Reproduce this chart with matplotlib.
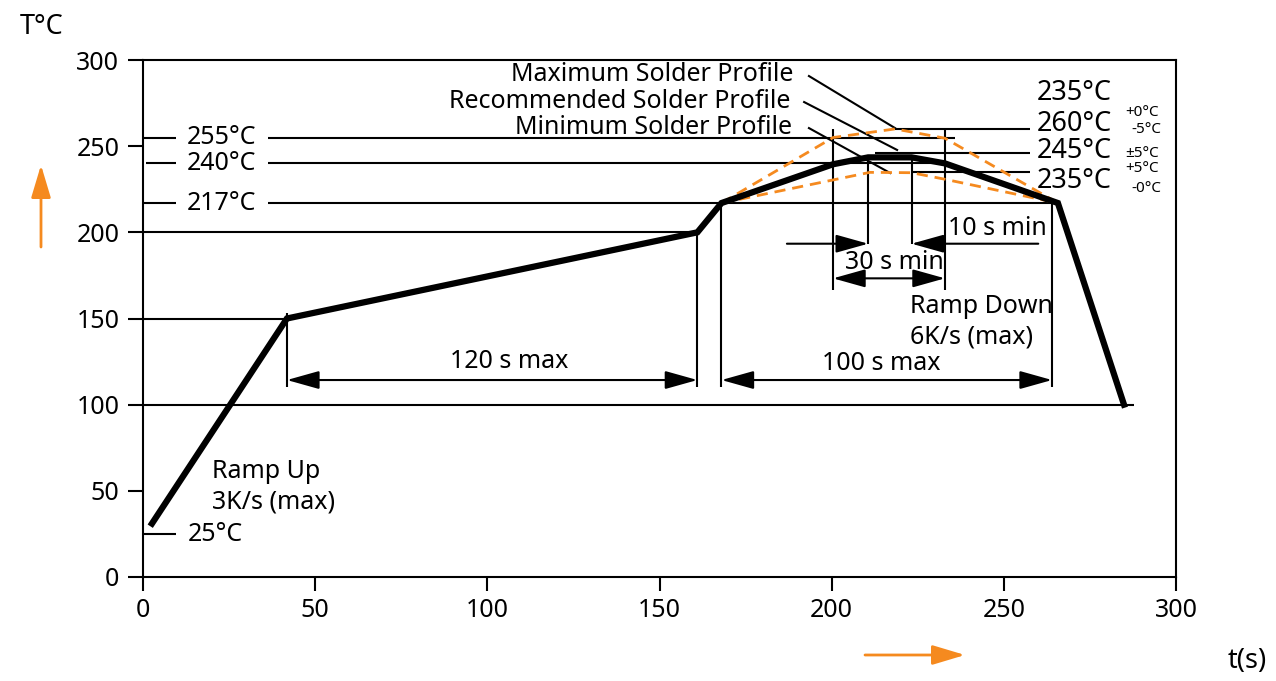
import matplotlib
matplotlib.use('Agg')
from matplotlib import pyplot as plt

plt.rcParams['font.family'] = ['Noto Sans', 'DejaVu Sans']

# reflow profile (thick black)
prof_t = [2.6, 41.8, 161, 168, 200.4, 210.6, 223.2, 232.9, 265.7, 284.9]
prof_T = [31, 150, 200, 217, 239.5, 243.5, 243.5, 240, 217, 100]
# maximum / minimum solder profiles (orange dashed)
max_t = [168, 200.4, 218.4, 232.9, 265.7]
max_T = [217, 255, 260, 254.6, 217]
min_t = [168, 200.4, 211.1, 223.2, 232.9, 265.7]
min_T = [217, 230.4, 234.8, 234.6, 230.8, 217]

xticks = [0, 50, 100, 150, 200, 250, 300]
yticks = [0, 50, 100, 150, 200, 250, 300]

# horizontal reference lines: (T, t_from, t_to)
hlines = [(255, 0, 9.7), (255, 36.2, 235.8),
          (240, 1, 9.7), (240, 36.2, 233),
          (217, 0, 9.7), (217, 36.2, 266),
          (200, 0, 161), (150, 0, 41.8), (100, 0, 287.8), (25, 0, 9.7),
          (260, 218.4, 257.6), (246, 212.6, 257.6), (235, 223.6, 257.6)]
# vertical reference lines: (t, T_from, T_to)
vlines = [(41.8, 110, 153), (161, 110, 200), (168, 110, 217), (264, 110, 217),
          (200.4, 166.5, 260), (210.6, 193, 244), (223.2, 193, 244),
          (232.9, 166.5, 260)]
# leader lines for the profile names
leaders = [((193.4, 290.7), (218.4, 260.5)),
           ((192, 275.6), (219, 247.8)),
           ((193.4, 260.5), (217, 234.4))]

orange = '#F58A1F'
fs = 18

fig = plt.figure(figsize=(12.76, 6.81), dpi=100)
ax = fig.add_axes([143 / 1276, 1 - 577 / 681, (1176 - 143) / 1276, (577 - 60) / 681])
ax.set_xlim(0, 300)
ax.set_ylim(0, 300)

for T, a, b in hlines:
    ax.plot([a, b], [T, T], color='k', lw=1.5, solid_capstyle='butt')
for t, a, b in vlines:
    ax.plot([t, t], [a, b], color='k', lw=1.5, solid_capstyle='butt')
for p, q in leaders:
    ax.plot([p[0], q[0]], [p[1], q[1]], color='k', lw=1.5, clip_on=False)

ax.plot(max_t, max_T, color=orange, lw=2, dashes=(4, 2.5))
ax.plot(min_t, min_T, color=orange, lw=2, dashes=(4, 2.5))
ax.plot(prof_t, prof_T, color='k', lw=4.5, solid_joinstyle='miter')


def dim_arrow(a, b, T, style='<|-|>'):
    ax.annotate('', xy=(b, T), xytext=(a, T),
                arrowprops=dict(arrowstyle=style + ',head_length=1.0,head_width=0.28',
                                mutation_scale=20, lw=1.5, color='k',
                                shrinkA=0, shrinkB=0))


dim_arrow(41.8, 161, 114.3)
dim_arrow(168, 264, 114.3)
dim_arrow(200.4, 232.9, 173.3)
dim_arrow(187, 210.6, 193.4, '-|>')
dim_arrow(260, 223.2, 193.4, '-|>')

ax.text(106.3, 125, '120 s max', fontsize=fs, ha='center', va='center')
ax.text(214.3, 124, '100 s max', fontsize=fs, ha='center', va='center')
ax.text(218.1, 182.5, '30 s min', fontsize=fs, ha='center', va='center')
ax.text(248, 202, '10 s min', fontsize=fs, ha='center', va='center')
ax.text(222.8, 148, 'Ramp Down\n6K/s (max)', fontsize=fs, ha='left', va='center',
        linespacing=1.3)
ax.text(20, 52.5, 'Ramp Up\n3K/s (max)', fontsize=fs, ha='left', va='center',
        linespacing=1.3)
for T, lab in [(255, '255°C'), (240, '240°C'), (217, '217°C')]:
    ax.text(22.9, T, lab, fontsize=fs, ha='center', va='center')
ax.text(13.1, 24.5, '25°C', fontsize=fs, ha='left', va='center')

ax.text(188.8, 291.5, 'Maximum Solder Profile', fontsize=fs, ha='right', va='center', clip_on=False)
ax.text(187.9, 275.8, 'Recommended Solder Profile', fontsize=fs, ha='right', va='center')
ax.text(188.5, 260.6, 'Minimum Solder Profile', fontsize=fs, ha='right', va='center')

for T, lab in [(281, '235°C'), (263, '260°C'), (247.3, '245°C'), (230, '235°C')]:
    ax.text(259.6, T, lab, fontsize=fs + 1.5, ha='left', va='center')
for t, T, lab in [(290.1, 269.8, '+0°C'), (291.3, 259.4, '-5°C'), (290.1, 246, '±5°C'),
                  (290.1, 237.3, '+5°C'), (291.3, 225.2, '-0°C')]:
    ax.text(t, T, lab, fontsize=11, ha='center', va='center', clip_on=False)

ax.set_xticks(xticks)
ax.set_yticks(yticks)
ax.tick_params(axis='both', labelsize=fs, width=1.5, direction='out')
ax.tick_params(axis='y', length=11, pad=6)
ax.tick_params(axis='x', length=10, pad=5)
for s in ax.spines.values():
    s.set_linewidth(1.5)

fig.text(20 / 1276, 1 - 27 / 681, 'T°C', fontsize=fs + 1.5, ha='left', va='center')
fig.text(1247 / 1276, 1 - 661 / 681, 't(s)', fontsize=fs + 1.5, ha='center', va='center')

# orange direction arrows
ap = dict(arrowstyle='-|>,head_length=1.0,head_width=0.3', mutation_scale=20,
          lw=2, color=orange, shrinkA=0, shrinkB=0)
fig.add_artist(matplotlib.patches.FancyArrowPatch((41, 681 - 247), (41, 681 - 165),
                                                  transform=None, **ap))
fig.add_artist(matplotlib.patches.FancyArrowPatch((865, 681 - 655), (965, 681 - 655),
                                                  transform=None, **ap))

fig.savefig('out.png', dpi=100)
